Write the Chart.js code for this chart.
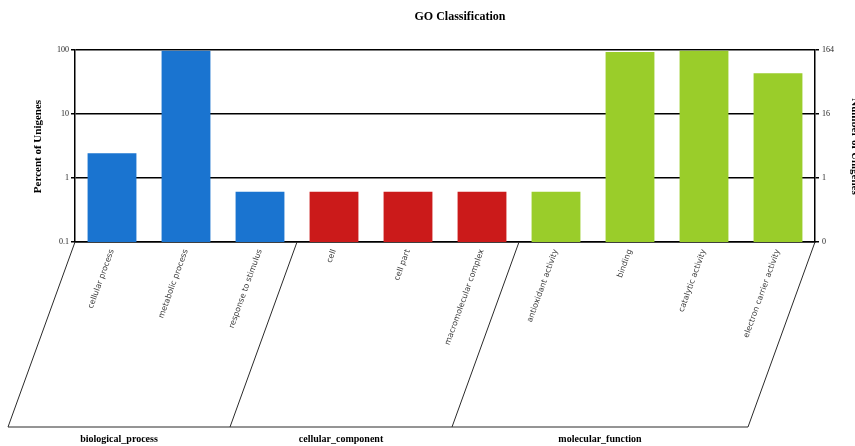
<!DOCTYPE html>
<html>
<head>
<meta charset="utf-8">
<title>GO Classification</title>
<script src="https://cdn.jsdelivr.net/npm/chart.js@4/dist/chart.umd.min.js"></script>
<style>
  html, body { margin: 0; padding: 0; background: #ffffff; }
  #wrap { width: 855px; height: 446px; }
</style>
</head>
<body>
<div id="wrap"><canvas id="go" width="855" height="446"></canvas></div>
<script>
// GO terms, their top-level ontology, and the share of unigenes (%) in each
const categories = [
  'cellular process', 'metabolic process', 'response to stimulus',
  'cell', 'cell part', 'macromolecular complex',
  'antioxidant activity', 'binding', 'catalytic activity', 'electron carrier activity'
];
const groups = [
  'biological_process', 'biological_process', 'biological_process',
  'cellular_component', 'cellular_component', 'cellular_component',
  'molecular_function', 'molecular_function', 'molecular_function', 'molecular_function'
];
const percentValues = [2.44, 97.6, 0.61, 0.61, 0.61, 0.61, 0.61, 93.0, 97.6, 43.3];

// Axis ticks: percent on the left, matching unigene counts on the right
const tickValues = [0.1, 1, 10, 100];
const percentTickLabels = ['0.1', '1', '10', '100'];
const countTickLabels = ['0', '1', '16', '164'];

const groupNames = ['biological_process', 'cellular_component', 'molecular_function'];
const groupColors = ['#1A74D0', '#CB1A1A', '#9ACD2A'];

const serif = '"Liberation Serif", "Times New Roman", serif';

// Title, axis titles and the slanted ontology panels under the tick labels
const goFrame = {
  id: 'goFrame',
  afterDraw(chart) {
    const ctx = chart.ctx;
    const area = chart.chartArea;
    const x = chart.scales.x;
    const half = (x.getPixelForValue(1) - x.getPixelForValue(0)) / 2;
    const drop = 185, slant = 67;
    const baseY = area.bottom + drop;

    ctx.save();
    ctx.fillStyle = '#000';
    ctx.font = 'bold 12px ' + serif;
    ctx.textAlign = 'center';
    ctx.textBaseline = 'middle';
    ctx.fillText('GO Classification', 460, 17);

    ctx.font = 'bold 11px ' + serif;
    ctx.save();
    ctx.translate(38, (area.top + area.bottom) / 2 + 0.5);
    ctx.rotate(-Math.PI / 2);
    ctx.fillText('Percent of Unigenes', 0, 0);
    ctx.restore();

    ctx.save();
    ctx.translate(852, (area.top + area.bottom) / 2 + 0.5);
    ctx.rotate(Math.PI / 2);
    ctx.textBaseline = 'alphabetic';
    ctx.fillText('Number of Unigenes', 0, 0);
    ctx.restore();

    // boundaries between ontology groups
    const edges = [area.left];
    for (let i = 1; i < groups.length; i++) {
      if (groups[i] !== groups[i - 1]) edges.push(x.getPixelForValue(i) - half);
    }
    edges.push(area.right);

    ctx.strokeStyle = '#2a2a2a';
    ctx.lineWidth = 1;
    ctx.beginPath();
    edges.forEach(e => {
      ctx.moveTo(e, area.bottom);
      ctx.lineTo(e - slant, baseY);
    });
    ctx.moveTo(edges[0] - slant, baseY);
    ctx.lineTo(edges[edges.length - 1] - slant, baseY);
    ctx.stroke();

    ctx.font = 'bold 10px ' + serif;
    ctx.textBaseline = 'middle';
    for (let g = 0; g < edges.length - 1; g++) {
      const cx = (edges[g] + edges[g + 1]) / 2 - slant;
      ctx.fillText(groupNames[g], cx, baseY + 12);
    }
    ctx.restore();
  }
};

const fixedTicks = scale => {
  scale.ticks = tickValues.map(v => ({ value: v }));
};

new Chart(document.getElementById('go'), {
  type: 'bar',
  data: {
    labels: categories,
    datasets: [{
      data: percentValues,
      backgroundColor: groups.map(g => groupColors[groupNames.indexOf(g)]),
      borderWidth: 0,
      categoryPercentage: 1,
      barPercentage: 0.66,
      yAxisID: 'y'
    }]
  },
  options: {
    responsive: false,
    devicePixelRatio: 1,
    animation: false,
    layout: { padding: { top: 50, left: 0, right: 0, bottom: 0 } },
    plugins: {
      legend: { display: false },
      title: { display: false },
      tooltip: { enabled: false }
    },
    scales: {
      x: {
        offset: true,
        grid: { display: true, color: 'rgba(0,0,0,0)', drawTicks: false },
        border: { display: true, color: '#000', width: 1.5 },
        ticks: {
          autoSkip: false,
          minRotation: 70,
          maxRotation: 70,
          padding: 6,
          color: '#3a3a3a',
          font: { family: '"DejaVu Sans", Verdana, sans-serif', size: 8 }
        },
        afterFit(scale) { scale.height = 204; }
      },
      y: {
        type: 'logarithmic',
        position: 'left',
        min: 0.1,
        max: 100,
        afterBuildTicks: fixedTicks,
        grid: { color: '#000', lineWidth: 1.5, tickLength: 4, tickColor: '#000' },
        border: { display: true, color: '#000', width: 1.5 },
        ticks: {
          padding: 2,
          color: '#222',
          font: { family: serif, size: 8 },
          callback: (v) => percentTickLabels[tickValues.indexOf(v)]
        },
        afterFit(scale) { scale.width = 75; }
      },
      y2: {
        type: 'logarithmic',
        position: 'right',
        min: 0.1,
        max: 100,
        afterBuildTicks: fixedTicks,
        grid: { drawOnChartArea: false, color: '#000', lineWidth: 1.5, tickLength: 4, tickColor: '#000' },
        border: { display: true, color: '#000', width: 1.5 },
        ticks: {
          padding: 3,
          color: '#222',
          font: { family: serif, size: 8 },
          callback: (v) => countTickLabels[tickValues.indexOf(v)]
        },
        afterFit(scale) { scale.width = 40; }
      }
    }
  },
  plugins: [goFrame]
});
</script>
</body>
</html>
